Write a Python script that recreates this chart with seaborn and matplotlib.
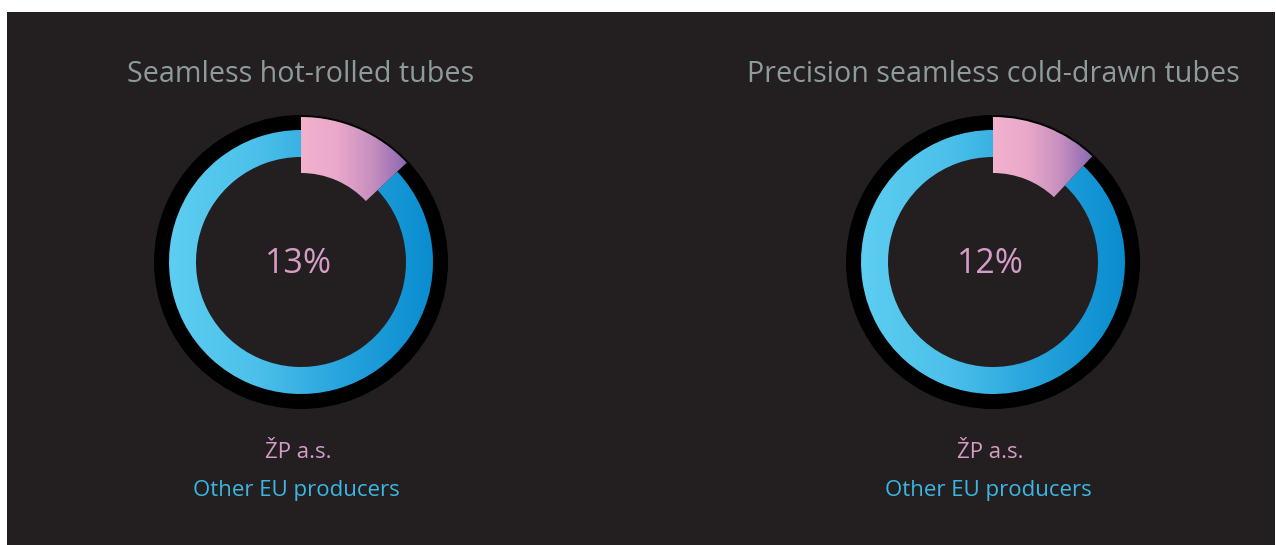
import numpy as np
import matplotlib
matplotlib.use("Agg")
import matplotlib.pyplot as plt
from matplotlib.colors import LinearSegmentedColormap
from matplotlib.patches import Rectangle
import seaborn as sns

# Market share of ŽP a.s. per product group (percent)
products = ["Seamless hot-rolled tubes", "Precision seamless cold-drawn tubes"]
zp_share = [13, 12]
other_share = [100 - s for s in zp_share]
series_labels = ["ŽP a.s.", "Other EU producers"]

BG = "#231f20"
TITLE_C = "#8e9b9c"
ZP_C = "#d49cc6"
OTHER_C = "#3cb6e3"

sns.set_theme(style="dark")
plt.rcParams["font.family"] = ["Open Sans", "DejaVu Sans"]

W, H, DPI = 1276, 545, 100
fig = plt.figure(figsize=(W / DPI, H / DPI), dpi=DPI, facecolor="white")
fig.patches.append(Rectangle((7 / W, 0), (1275 - 7) / W, (H - 12) / H,
                             transform=fig.transFigure, facecolor=BG,
                             edgecolor="none", zorder=-5))

blue_cmap = LinearSegmentedColormap.from_list(
    "blue", ["#5dcef1", "#4cc0ea", "#25a3dc", "#0a8ccf"])
pink_cmap = LinearSegmentedColormap.from_list(
    "pink", ["#f2b1cd", "#eaa9cb", "#c890bf", "#8a68b3"])

R = 147.0  # outer radius of the black rim, in pixels
centers = [(301, 262), (993, 262)]
LIM = 1.05


def gradient_fill(ax, wedge, cmap, x0, x1):
    grad = np.linspace(0, 1, 256).reshape(1, -1)
    im = ax.imshow(grad, cmap=cmap, extent=(x0, x1, -1.1, 1.1),
                   aspect="auto", zorder=wedge.get_zorder() + 0.1,
                   interpolation="bilinear")
    im.set_clip_path(wedge)


def ypx(y):
    return 1 - y / H


for (cx, cy), title, zp, other in zip(centers, products, zp_share, other_share):
    size = 2 * LIM * R
    ax = fig.add_axes([(cx - size / 2) / W, (H - cy - size / 2) / H,
                       size / W, size / H])
    ax.set_facecolor("none")

    vals = [zp, other]
    # black rim
    ax.pie([100], radius=1.0, colors=["black"], startangle=90,
           wedgeprops=dict(width=(147 - 130) / R, linewidth=0))
    # ring of other producers
    ring, _ = ax.pie(vals, radius=132 / R, startangle=90, counterclock=False,
                     colors=["none", "none"],
                     wedgeprops=dict(width=(132 - 105) / R, linewidth=0))
    ring[1].set_zorder(2)
    gradient_fill(ax, ring[1], blue_cmap, -132 / R, 132 / R)
    # ŽP a.s. segment, raised out of the ring
    seg, _ = ax.pie(vals, radius=145 / R, startangle=90, counterclock=False,
                    colors=["none", "none"],
                    wedgeprops=dict(width=(145 - 89) / R, linewidth=0))
    seg[0].set_zorder(3)
    x_end = 145 / R * np.sin(np.deg2rad(zp * 3.6))
    gradient_fill(ax, seg[0], pink_cmap, 0, x_end)

    ax.set_xlim(-LIM, LIM)
    ax.set_ylim(-LIM, LIM)
    ax.set_aspect("equal")
    ax.axis("off")

    fig.text((cx - 2.5) / W, ypx(273), f"{zp}%", ha="center", va="baseline",
             fontsize=24.5, color=ZP_C, zorder=5)

    fig.text(cx / W, ypx(82), title, ha="center", va="baseline",
             fontsize=20.6, color=TITLE_C)
    fig.text((cx - 3) / W, ypx(458), series_labels[0], ha="center",
             va="baseline", fontsize=16, color=ZP_C)
    fig.text((cx - 4.5) / W, ypx(496), series_labels[1], ha="center",
             va="baseline", fontsize=16, color=OTHER_C)

fig.savefig("out.png", dpi=DPI, facecolor=fig.get_facecolor())
